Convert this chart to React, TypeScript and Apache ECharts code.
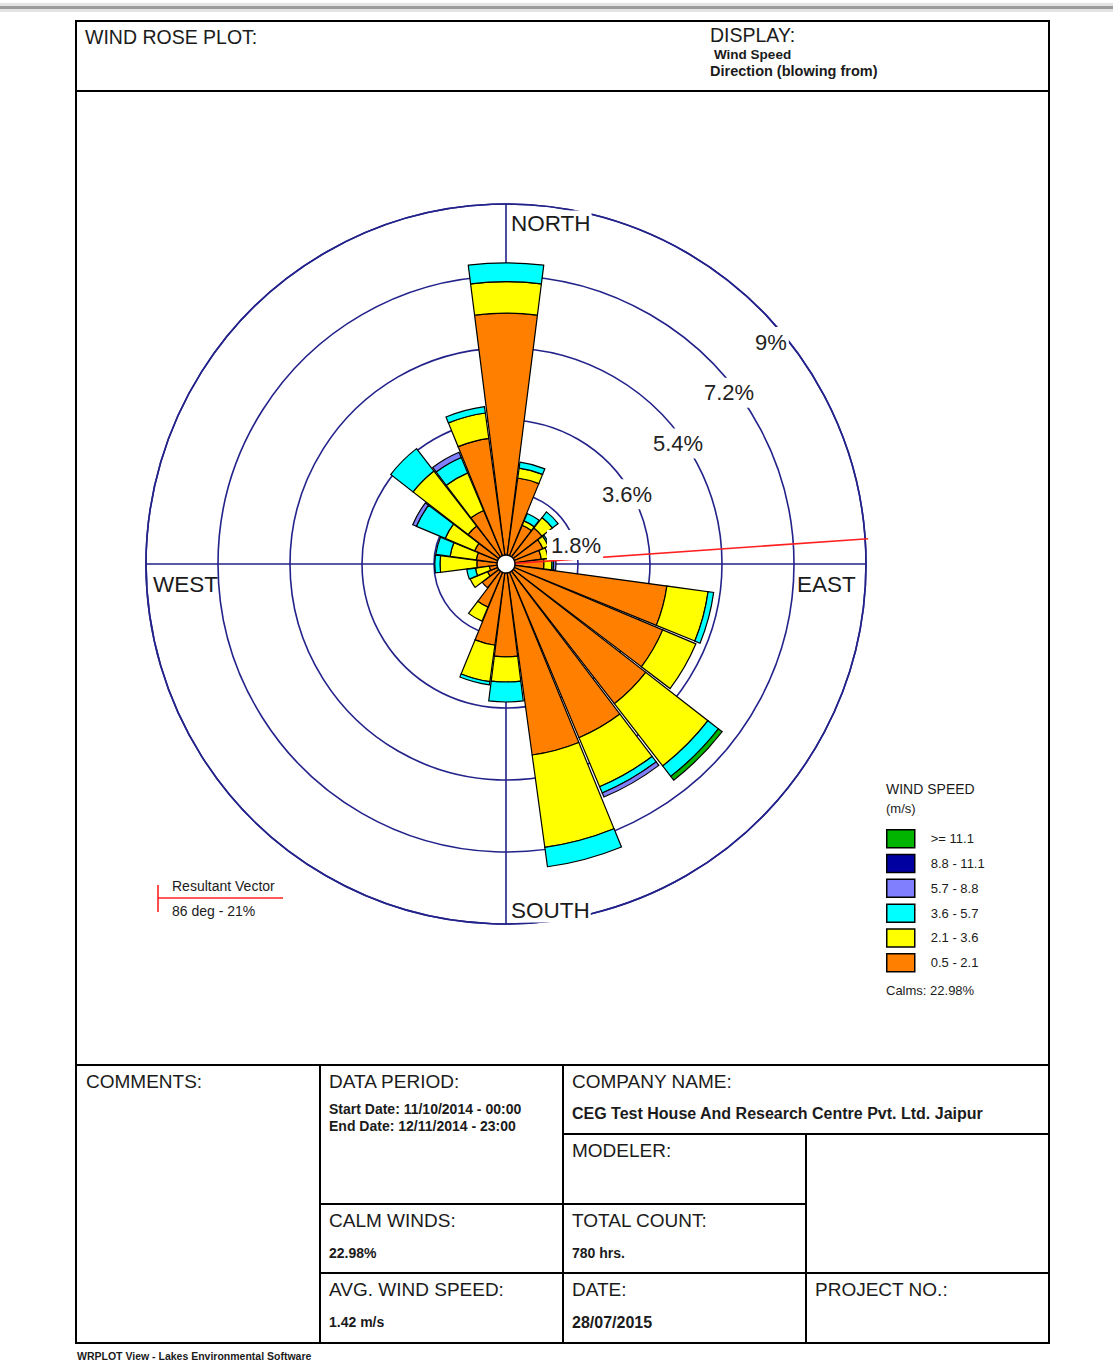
import React, { useEffect, useRef } from 'react';
import * as echarts from 'echarts';

// ---- data ----
const DIRECTIONS = ['0°', '15°', '30°', '45°', '60°', '75°', '90°', '105°', '120°', '135°', '150°', '165°',
  '180°', '195°', '210°', '225°', '240°', '255°', '270°', '285°', '300°', '315°', '330°', '345°'];
const SPEED_CLASSES = ['0.5 - 2.1', '2.1 - 3.6', '3.6 - 5.7', '5.7 - 8.8', '8.8 - 11.1', '>= 11.1'];
const CLASS_COLORS = ['#ff8000', '#ffff00', '#00ffff', '#8080ff', '#0000a0', '#00b400'];
const PCT_05_21 = [6.27, 2.17, 1.05, 1.14, 1.0, 0.89, 0.95, 4.06, 4.25, 4.42, 4.71, 4.82, 2.32, 2.05, 1.17, 0.75, 0.5, 0.42, 0.73, 0.75, 0.85, 1.2, 1.45, 3.17];
const PCT_21_36 = [0.79, 0.25, 0.12, 0.33, 0.15, 0.17, 0.2, 1.04, 0.9, 1.97, 1.33, 2.33, 0.63, 0.92, 0.38, 0, 0.47, 0.35, 0.92, 0.66, 0.8, 1.74, 1.02, 0.64];
const PCT_36_57 = [0.47, 0.15, 0.2, 0.18, 0.04, 0, 0.04, 0.14, 0, 0.33, 0.17, 0.49, 0.5, 0.08, 0, 0, 0, 0.22, 0.13, 0.36, 0.78, 0.71, 0.42, 0.16];
const PCT_57_88 = [0, 0, 0, 0, 0, 0, 0.06, 0, 0, 0, 0.11, 0, 0, 0, 0, 0, 0, 0, 0, 0, 0.1, 0, 0.14, 0];
const PCT_88_111 = [0, 0, 0, 0, 0, 0, 0, 0, 0, 0, 0, 0, 0, 0, 0, 0, 0, 0, 0, 0, 0, 0, 0, 0];
const PCT_GE_111 = [0, 0, 0, 0, 0, 0, 0, 0, 0, 0.12, 0, 0, 0, 0, 0, 0, 0, 0, 0, 0, 0, 0, 0, 0];
const CLASS_VALUES = [PCT_05_21, PCT_21_36, PCT_36_57, PCT_57_88, PCT_88_111, PCT_GE_111];
const RING_LABELS = ['1.8%', '3.6%', '5.4%', '7.2%', '9%'];
const COMPASS = ['NORTH', 'EAST', 'SOUTH', 'WEST'];
const RESULTANT_DEG = 86;
const RESULTANT_TEXT = ['Resultant Vector', '86 deg - 21%'];
const CALMS_TEXT = 'Calms: 22.98%';

// ---- layout ----
const W = 1113;
const H = 1364;
const CX = 506;
const CY = 564;
const R = 360;
const MAXPCT = 9;
const NAVY = '#22228a';
const FONT = 'Liberation Sans, Arial, sans-serif';
const INK = '#1b1b1b';

function txt(x: number, y: number, text: string, size: number, bold = false, extra: any = {}) {
  return {
    type: 'text', x, y, z: 120,
    style: {
      text, fontSize: size, fontFamily: FONT, fontWeight: bold ? 'bold' : 'normal',
      fill: INK, align: 'left', verticalAlign: 'middle', ...extra,
    },
  };
}
function ln(x1: number, y1: number, x2: number, y2: number, stroke = '#000', lw = 2, z = 120) {
  return { type: 'line', z, shape: { x1, y1, x2, y2 }, style: { stroke, lineWidth: lw } };
}

export default function App() {
  const ref = useRef<HTMLDivElement>(null);
  useEffect(() => {
    if (!ref.current) return;
    const chart = echarts.init(ref.current, null, { renderer: 'svg' });

    const series = SPEED_CLASSES.map((name, i) => ({
      type: 'bar',
      name,
      coordinateSystem: 'polar',
      stack: 'rose',
      barCategoryGap: '4%',
      data: CLASS_VALUES[i].map((v) => (v > 0 ? v : null)),
      itemStyle: { color: CLASS_COLORS[i], borderColor: '#000', borderWidth: 1.2 },
      emphasis: { disabled: true },
      z: 2,
    }));

    const graphics: any[] = [];
    // top gray strip
    graphics.push({ type: 'rect', z: 0, shape: { x: 0, y: 3, width: W, height: 9 }, style: { fill: '#e4e4e4' } });
    graphics.push({ type: 'rect', z: 0, shape: { x: 0, y: 6, width: W, height: 3 }, style: { fill: '#9c9c9c' } });
    // frame
    graphics.push({ type: 'rect', z: 120, shape: { x: 76, y: 21, width: 973, height: 1322 }, style: { fill: 'none', stroke: '#000', lineWidth: 2 } });
    graphics.push(ln(76, 91, 1049, 91));
    graphics.push(ln(76, 1065, 1049, 1065));
    graphics.push(ln(320, 1065, 320, 1343));
    graphics.push(ln(563, 1065, 563, 1343));
    graphics.push(ln(563, 1134, 1049, 1134));
    graphics.push(ln(806, 1134, 806, 1343));
    graphics.push(ln(320, 1204, 806, 1204));
    graphics.push(ln(320, 1273, 1049, 1273));
    // header
    graphics.push(txt(85, 37, 'WIND ROSE PLOT:', 19.5));
    graphics.push(txt(710, 35, 'DISPLAY:', 19.5));
    graphics.push(txt(714, 54, 'Wind Speed', 13.5, true));
    graphics.push(txt(710, 71, 'Direction (blowing from)', 14.5, true));
    // cross axes (under bars)
    graphics.push(ln(CX - R, CY, CX + R, CY, NAVY, 1.6, 1));
    graphics.push(ln(CX, CY - R, CX, CY + R, NAVY, 1.6, 1));
    // resultant vector
    const rad = (RESULTANT_DEG * Math.PI) / 180;
    graphics.push(ln(CX, CY, CX + (R + 3) * Math.sin(rad), CY - (R + 3) * Math.cos(rad), '#ff2020', 1.6, 100));
    // center hole
    graphics.push({ type: 'circle', z: 105, shape: { cx: CX, cy: CY, r: 9 }, style: { fill: '#fff', stroke: '#000', lineWidth: 1.5 } });
    // ring labels (placed along a diagonal inside each ring)
    RING_LABELS.forEach((label, i) => {
      graphics.push(txt(CX + 41 + 51 * i, CY - 19 - 50.75 * i, label, 22, false, {
        fill: '#222', backgroundColor: '#fff', padding: [4, 2, 4, 4],
      }));
    });
    // compass labels
    graphics.push(txt(CX + 5, CY - R + 19, COMPASS[0], 22.5, false, { backgroundColor: '#fff', padding: [2, 1, 0, 0] }));
    graphics.push(txt(CX + R - 69, CY + 20, COMPASS[1], 22.5));
    graphics.push(txt(CX + 5, CY + R - 14, COMPASS[2], 22.5, false, { backgroundColor: '#fff', padding: [0, 1, 2, 0] }));
    graphics.push(txt(CX - R + 7, CY + 20, COMPASS[3], 22.5));
    // resultant legend
    graphics.push(ln(158, 885, 158, 912, '#ff2020', 1.6));
    graphics.push(ln(158, 898, 283, 898, '#ff2020', 1.6));
    graphics.push(txt(172, 886, RESULTANT_TEXT[0], 14));
    graphics.push(txt(172, 911, RESULTANT_TEXT[1], 14));
    // wind speed legend titles
    graphics.push(txt(886, 789, 'WIND SPEED', 14));
    graphics.push(txt(886, 808, '(m/s)', 13));
    graphics.push(txt(886, 990, CALMS_TEXT, 13));
    // bottom table
    graphics.push(txt(86, 1081, 'COMMENTS:', 19));
    graphics.push(txt(329, 1081, 'DATA PERIOD:', 19));
    graphics.push(txt(329, 1109, 'Start Date: 11/10/2014 - 00:00', 14, true));
    graphics.push(txt(329, 1126, 'End Date: 12/11/2014 - 23:00', 14, true));
    graphics.push(txt(572, 1081, 'COMPANY NAME:', 19));
    graphics.push(txt(572, 1113, 'CEG Test House And Research Centre Pvt. Ltd. Jaipur', 16, true));
    graphics.push(txt(572, 1150, 'MODELER:', 19));
    graphics.push(txt(329, 1220, 'CALM WINDS:', 19));
    graphics.push(txt(329, 1253, '22.98%', 14, true));
    graphics.push(txt(572, 1220, 'TOTAL COUNT:', 19));
    graphics.push(txt(572, 1253, '780 hrs.', 14, true));
    graphics.push(txt(329, 1289, 'AVG. WIND SPEED:', 19));
    graphics.push(txt(329, 1322, '1.42 m/s', 14, true));
    graphics.push(txt(572, 1289, 'DATE:', 19));
    graphics.push(txt(572, 1322, '28/07/2015', 16, true));
    graphics.push(txt(815, 1289, 'PROJECT NO.:', 19));
    graphics.push(txt(77, 1356, 'WRPLOT View - Lakes Environmental Software', 10.5, true));

    chart.setOption({
      animation: false,
      backgroundColor: '#fff',
      polar: { center: [CX, CY], radius: R },
      angleAxis: {
        type: 'category',
        data: DIRECTIONS,
        startAngle: 97.5,
        clockwise: true,
        boundaryGap: true,
        axisLine: { show: true, lineStyle: { color: NAVY, width: 1.6 } },
        axisTick: { show: false },
        axisLabel: { show: false },
        splitLine: { show: false },
      },
      radiusAxis: {
        type: 'value',
        min: 0,
        max: MAXPCT,
        interval: 1.8,
        axisLine: { show: false },
        axisTick: { show: false },
        axisLabel: { show: false },
        splitLine: { show: true, lineStyle: { color: NAVY, width: 1.6 } },
      },
      legend: {
        orient: 'vertical',
        left: 886,
        top: 829,
        padding: 0,
        itemWidth: 28,
        itemHeight: 18,
        itemGap: 5.3,
        selectedMode: false,
        icon: 'rect',
        data: SPEED_CLASSES.slice().reverse(),
        itemStyle: { borderColor: '#000', borderWidth: 1.5 },
        textStyle: { fontSize: 13, fontFamily: FONT, color: INK, lineHeight: 18, padding: [0, 0, 0, 11] },
      },
      graphic: { elements: graphics },
      series,
    });
    return () => chart.dispose();
  }, []);
  return <div ref={ref} style={{ position: 'absolute', left: 0, top: 0, width: W, height: H }} />;
}
